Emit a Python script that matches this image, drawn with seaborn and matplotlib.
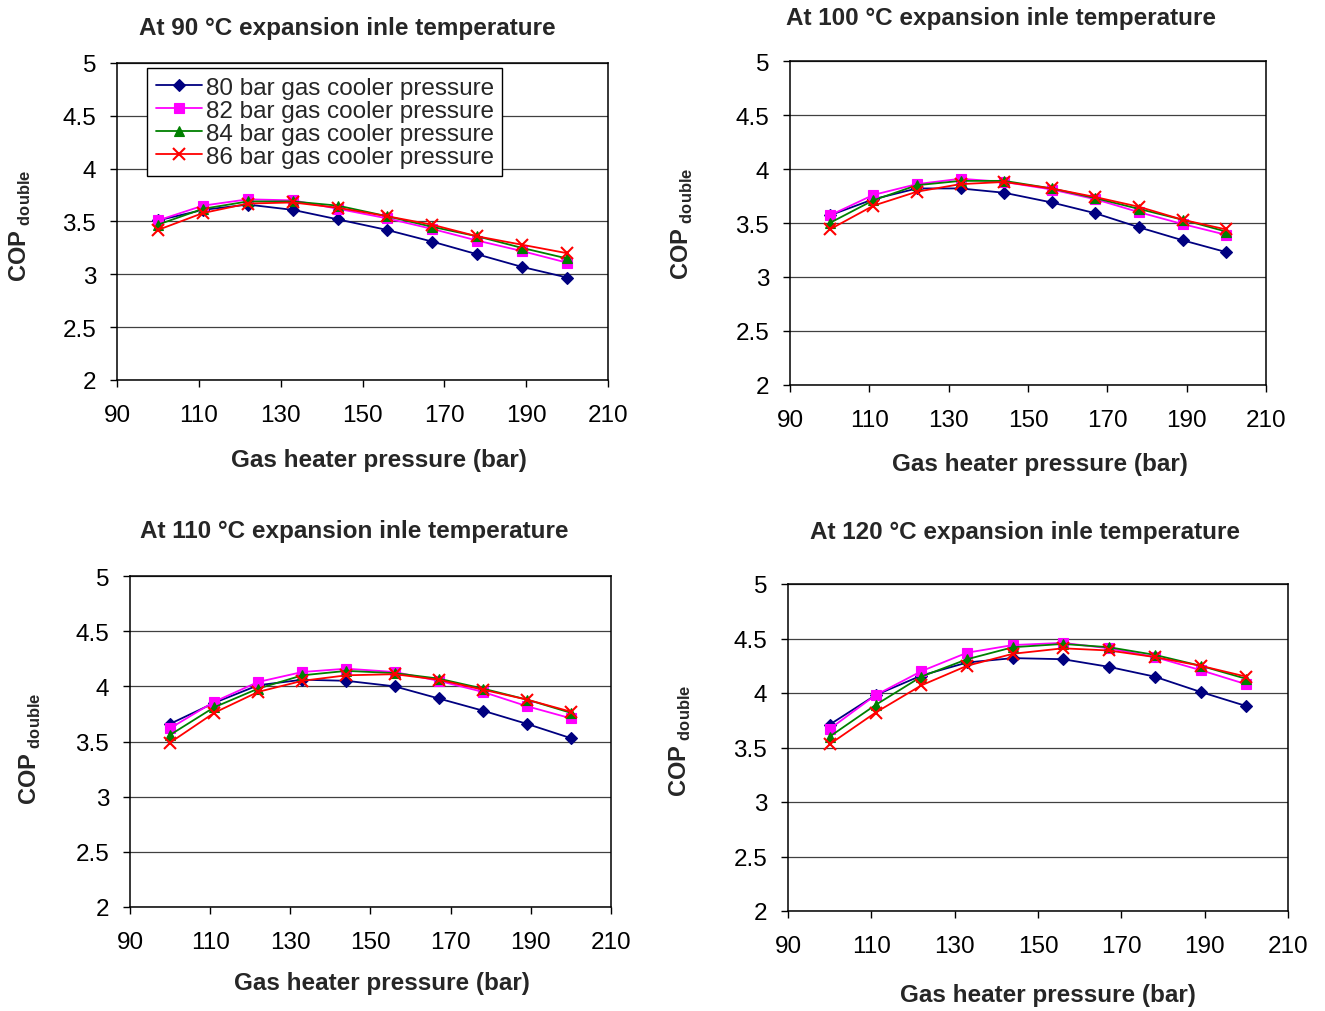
import matplotlib
matplotlib.use("Agg")
import matplotlib.pyplot as plt
import seaborn as sns

# Gas heater pressure (bar), same for every panel
pressure = [100, 111, 122, 133, 144, 156, 167, 178, 189, 200]

series_labels = [
    "80 bar gas cooler pressure",
    "82 bar gas cooler pressure",
    "84 bar gas cooler pressure",
    "86 bar gas cooler pressure",
]

titles = [
    "At 90 °C expansion inle temperature",
    "At 100 °C expansion inle temperature",
    "At 110 °C expansion inle temperature",
    "At 120 °C expansion inle temperature",
]

# COP double, 90 °C expansion inlet
cop_90_80 = [3.51, 3.61, 3.66, 3.61, 3.52, 3.42, 3.31, 3.19, 3.07, 2.97]
cop_90_82 = [3.51, 3.65, 3.71, 3.70, 3.62, 3.53, 3.43, 3.32, 3.22, 3.11]
cop_90_84 = [3.47, 3.62, 3.69, 3.69, 3.65, 3.55, 3.45, 3.36, 3.25, 3.15]
cop_90_86 = [3.42, 3.58, 3.67, 3.68, 3.63, 3.55, 3.47, 3.36, 3.28, 3.20]

# 100 °C
cop_100_80 = [3.57, 3.72, 3.82, 3.82, 3.78, 3.69, 3.59, 3.46, 3.34, 3.23]
cop_100_82 = [3.57, 3.76, 3.86, 3.91, 3.88, 3.81, 3.72, 3.60, 3.49, 3.39]
cop_100_84 = [3.50, 3.71, 3.85, 3.89, 3.89, 3.82, 3.73, 3.63, 3.53, 3.42]
cop_100_86 = [3.44, 3.66, 3.79, 3.86, 3.88, 3.82, 3.74, 3.65, 3.53, 3.44]

# 110 °C
cop_110_80 = [3.66, 3.85, 4.01, 4.06, 4.05, 4.00, 3.89, 3.78, 3.66, 3.53]
cop_110_82 = [3.62, 3.86, 4.04, 4.13, 4.16, 4.13, 4.05, 3.95, 3.82, 3.71]
cop_110_84 = [3.56, 3.81, 3.98, 4.10, 4.14, 4.12, 4.07, 3.98, 3.88, 3.76]
cop_110_86 = [3.49, 3.76, 3.95, 4.05, 4.10, 4.11, 4.06, 3.97, 3.88, 3.77]

# 120 °C
cop_120_80 = [3.71, 3.98, 4.16, 4.28, 4.32, 4.31, 4.24, 4.15, 4.01, 3.88]
cop_120_82 = [3.67, 3.98, 4.20, 4.37, 4.44, 4.46, 4.41, 4.33, 4.21, 4.08]
cop_120_84 = [3.60, 3.89, 4.15, 4.31, 4.42, 4.45, 4.42, 4.35, 4.25, 4.13]
cop_120_86 = [3.53, 3.82, 4.07, 4.25, 4.36, 4.41, 4.39, 4.33, 4.25, 4.15]

panels = [
    [cop_90_80, cop_90_82, cop_90_84, cop_90_86],
    [cop_100_80, cop_100_82, cop_100_84, cop_100_86],
    [cop_110_80, cop_110_82, cop_110_84, cop_110_86],
    [cop_120_80, cop_120_82, cop_120_84, cop_120_86],
]

x_ticks = [90, 110, 130, 150, 170, 190, 210]
y_ticks = [2, 2.5, 3, 3.5, 4, 4.5, 5]

# styles
colors = ["#000080", "#FF00FF", "#008000", "#FF0000"]
markers = ["D", "s", "^", "x"]
msizes = [5.8, 7.2, 7.8, 8.5]

sns.set_style("ticks")
plt.rcParams["font.family"] = ["Liberation Sans", "DejaVu Sans"]
plt.rcParams["mathtext.fontset"] = "custom"
plt.rcParams["mathtext.rm"] = "Liberation Sans"
plt.rcParams["mathtext.bf"] = "Liberation Sans:bold"

W, H = 1325, 1012
fig = plt.figure(figsize=(W / 100, H / 100), dpi=100)

# axes boxes in pixels: left, top, right, bottom
boxes = [(117, 64, 608, 381), (790, 62, 1266, 386),
         (130, 577, 611, 908), (788, 585, 1288, 912)]
title_pos = [(347, 28), (1001, 18), (354, 532), (1025, 533)]
xlabel_pos = [(379, 461), (1040, 464), (382, 984), (1048, 996)]
ylabel_pos = [(20, 226), (682, 224), (30, 749), (680, 741)]

FS = 17.5

for i, (l, t, r, b) in enumerate(boxes):
    ax = fig.add_axes([l / W, 1 - b / H, (r - l) / W, (b - t) / H])
    for j in range(4):
        sns.lineplot(
            x=pressure, y=panels[i][j], ax=ax,
            color=colors[j], marker=markers[j], markersize=msizes[j],
            markeredgecolor=colors[j], markerfacecolor=colors[j],
            markeredgewidth=1.5 if markers[j] == "x" else 0.8,
            linewidth=1.3, label=series_labels[j] if i == 0 else None,
        )
    ax.set_xlim(90, 210)
    ax.set_ylim(2, 5)
    ax.set_xticks(x_ticks)
    ax.set_xticklabels([f"{v:g}" for v in x_ticks])
    ax.set_yticks(y_ticks)
    ax.set_yticklabels([f"{v:g}" for v in y_ticks])
    ax.yaxis.grid(True, color="#404040", linewidth=0.9)
    ax.set_axisbelow(True)
    ax.tick_params(direction="out", length=5, width=1, color="black",
                   labelsize=FS, pad=10, labelcolor="black")
    ax.tick_params(axis="x", pad=12)
    for s in ax.spines.values():
        s.set_color("black")
        s.set_linewidth(1.1)

    ax.set_xlabel("Gas heater pressure (bar)", fontsize=FS, fontweight="bold")
    ax.xaxis.label.set_va("center")
    ax.xaxis.set_label_coords((xlabel_pos[i][0] - l) / (r - l),
                              (b - xlabel_pos[i][1]) / (b - t))
    ax.set_ylabel(r"$\mathbf{COP}_{\mathbf{\ double}}$", fontsize=17)
    ax.yaxis.label.set_va("center")
    ax.yaxis.set_label_coords((ylabel_pos[i][0] - l) / (r - l),
                              (b - ylabel_pos[i][1]) / (b - t))

    fig.text(title_pos[i][0] / W, 1 - title_pos[i][1] / H, titles[i],
             ha="center", va="center", fontsize=FS, fontweight="bold")

    if i == 0:
        leg = ax.legend(loc="upper left", bbox_to_anchor=(0.062, 0.984),
                        borderaxespad=0, fontsize=FS, frameon=True,
                        fancybox=False, edgecolor="black", framealpha=1,
                        handlelength=1.9, handletextpad=0.15,
                        labelspacing=0.04, borderpad=0.35)
        leg.get_frame().set_linewidth(1.0)
    elif ax.get_legend() is not None:
        ax.get_legend().remove()

fig.savefig("out.png", dpi=100)
plt.close()
